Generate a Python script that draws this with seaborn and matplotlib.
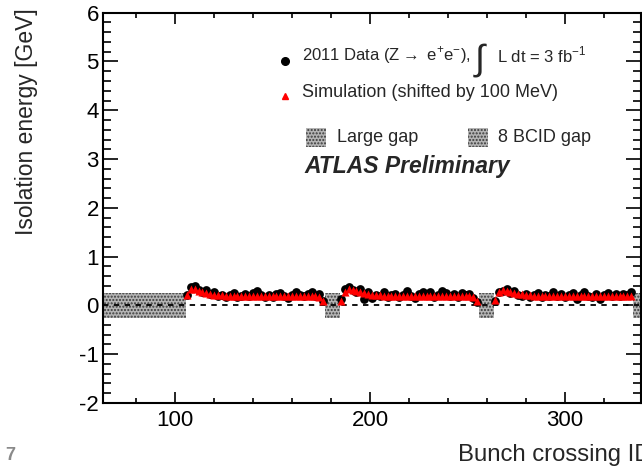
import numpy as np
import pandas as pd
import seaborn as sns
import matplotlib.pyplot as plt
from matplotlib.patches import Rectangle
from matplotlib.ticker import MultipleLocator

# first bunch crossing ID of each train (50 ns spacing -> every 2nd BCID)
train_starts = [106, 185, 264]
bunches_per_train = 36

data_t1 = [0.22, 0.37, 0.39, 0.32, 0.28, 0.31, 0.24, 0.27, 0.20, 0.22, 0.18, 0.21,
           0.25, 0.17, 0.20, 0.23, 0.19, 0.26, 0.29, 0.21, 0.18, 0.22, 0.17, 0.23,
           0.26, 0.20, 0.16, 0.22, 0.27, 0.21, 0.19, 0.23, 0.28, 0.20, 0.24, 0.09]
data_t2 = [0.14, 0.33, 0.38, 0.32, 0.28, 0.33, 0.13, 0.27, 0.15, 0.22, 0.19, 0.28,
           0.17, 0.21, 0.24, 0.18, 0.22, 0.29, 0.20, 0.16, 0.23, 0.28, 0.21, 0.27,
           0.18, 0.22, 0.29, 0.25, 0.19, 0.23, 0.17, 0.26, 0.21, 0.24, 0.15, 0.06]
data_t3 = [0.10, 0.27, 0.29, 0.33, 0.25, 0.30, 0.22, 0.19, 0.24, 0.17, 0.21, 0.26,
           0.18, 0.22, 0.20, 0.27, 0.19, 0.23, 0.17, 0.21, 0.25, 0.13, 0.22, 0.27,
           0.20, 0.18, 0.24, 0.13, 0.21, 0.26, 0.19, 0.23, 0.20, 0.24, 0.21, 0.27]

sim_t1 = [0.22, 0.34, 0.33, 0.30, 0.27, 0.25, 0.24, 0.22, 0.21, 0.21, 0.20, 0.19,
          0.20, 0.19, 0.19, 0.20, 0.19, 0.19, 0.20, 0.19, 0.19, 0.20, 0.19, 0.19,
          0.20, 0.19, 0.19, 0.20, 0.19, 0.19, 0.20, 0.19, 0.19, 0.19, 0.17, 0.10]
sim_t2 = [0.10, 0.28, 0.33, 0.32, 0.29, 0.27, 0.25, 0.24, 0.22, 0.21, 0.21, 0.20,
          0.20, 0.19, 0.20, 0.19, 0.19, 0.20, 0.19, 0.20, 0.19, 0.19, 0.20, 0.19,
          0.19, 0.20, 0.19, 0.20, 0.19, 0.19, 0.20, 0.19, 0.19, 0.20, 0.17, 0.09]
sim_t3 = [0.12, 0.27, 0.31, 0.30, 0.28, 0.26, 0.24, 0.23, 0.22, 0.21, 0.20, 0.20,
          0.19, 0.20, 0.19, 0.20, 0.19, 0.19, 0.20, 0.19, 0.20, 0.19, 0.19, 0.20,
          0.19, 0.20, 0.19, 0.19, 0.20, 0.19, 0.19, 0.20, 0.19, 0.20, 0.19, 0.20]

# gaps between trains (BCID ranges)
large_gap = (40, 105.5)
bcid8_gaps = [(177, 184.5), (256, 263.5), (335, 342.5)]

bcid = np.concatenate([np.arange(s, s + 2 * bunches_per_train, 2) for s in train_starts])
df = pd.DataFrame({'BCID': bcid,
                   'Data': data_t1 + data_t2 + data_t3,
                   'Simulation': sim_t1 + sim_t2 + sim_t3})

sns.set_style('ticks')
plt.rcParams['font.family'] = ['Liberation Sans', 'DejaVu Sans']
plt.rcParams['mathtext.fontset'] = 'custom'
plt.rcParams['mathtext.rm'] = 'Liberation Sans'
plt.rcParams['axes.unicode_minus'] = False
plt.rcParams['hatch.linewidth'] = 1.0

fig = plt.figure(figsize = (6.42, 4.68), dpi = 100)
ax = fig.add_axes([103 / 642, 65 / 468, 538 / 642, 390.3 / 468])

hatch_kw = dict(facecolor = '#b4b4b4', edgecolor = '#3a3a3a', hatch = '.....', lw = 0)
ax.add_patch(Rectangle((large_gap[0], -0.25), large_gap[1] - large_gap[0], 0.5, **hatch_kw))
for g0, g1 in bcid8_gaps:
    ax.add_patch(Rectangle((g0, -0.25), g1 - g0, 0.5, **hatch_kw))

ax.axhline(0, color = 'black', lw = 1.3, ls = (0, (3, 3)))

sns.scatterplot(data = df, x = 'BCID', y = 'Data', marker = 'o', color = 'black',
                s = 40, linewidth = 0, ax = ax, zorder = 3)
sns.scatterplot(data = df, x = 'BCID', y = 'Simulation', marker = '^', color = 'red',
                s = 34, linewidth = 0, ax = ax, zorder = 4)

ax.set_xlim(63, 339)
ax.set_ylim(-2, 6)
ax.set_xlabel('')
ax.set_ylabel('')
ax.xaxis.set_major_locator(MultipleLocator(100))
ax.xaxis.set_minor_locator(MultipleLocator(20))
ax.yaxis.set_major_locator(MultipleLocator(1))
ax.yaxis.set_minor_locator(MultipleLocator(0.2))
ax.tick_params(which = 'both', direction = 'in', top = True, right = True, width = 1.2,
               labelsize = 16, colors = 'black')
ax.tick_params(axis = 'x', which = 'major', length = 7.7, pad = 5)
ax.tick_params(axis = 'x', which = 'minor', length = 3.6)
ax.tick_params(axis = 'y', which = 'major', length = 11, pad = 3)
ax.tick_params(axis = 'y', which = 'minor', length = 5.5)
for sp in ax.spines.values():
    sp.set_linewidth(1.5)
    sp.set_color('black')

# legend drawn ROOT-style
ax.plot([0.338], [0.877], 'o', color = 'black', ms = 5.5, transform = ax.transAxes, clip_on = False)
ax.plot([0.338], [0.787], '^', color = 'red', ms = 4.5, transform = ax.transAxes, clip_on = False)
ax.text(0.369, 0.892, r'2011 Data (Z$\rightarrow$ e$^{+}$e$^{-}$),',
        transform = ax.transAxes, fontsize = 12, va = 'center')
ax.text(0.702, 0.878, r'$\int$', transform = ax.transAxes, fontsize = 26,
        va = 'center', ha = 'center')
ax.text(0.732, 0.892, r'L dt = 3 fb$^{-1}$', transform = ax.transAxes,
        fontsize = 12, va = 'center')
ax.text(0.369, 0.795, 'Simulation (shifted by 100 MeV)', transform = ax.transAxes,
        fontsize = 13, va = 'center')
for bx, label in [(0.3773, 'Large gap'), (0.678, '8 BCID gap')]:
    ax.add_patch(Rectangle((bx, 0.656), 0.038, 0.0486, transform = ax.transAxes,
                           clip_on = False, **hatch_kw))
    ax.text(bx + 0.057, 0.679, label, transform = ax.transAxes, fontsize = 13, va = 'center')
ax.text(0.3736, 0.6054, 'ATLAS Preliminary', transform = ax.transAxes, fontsize = 16.5,
        fontweight = 'bold', fontstyle = 'italic', va = 'center')

fig.text(27 / 642, 1 - 8 / 468, 'Isolation energy [GeV]', rotation = 90,
         ha = 'center', va = 'top', fontsize = 16.5)
fig.text(458 / 642, 13 / 468, 'Bunch crossing ID', ha = 'left', va = 'center', fontsize = 17.2)
fig.text(5 / 642, 13 / 468, '7', ha = 'left', va = 'center', fontsize = 13,
         color = '#8a8a8a', fontweight = 'bold')

plt.savefig('out.png', dpi = 100)
